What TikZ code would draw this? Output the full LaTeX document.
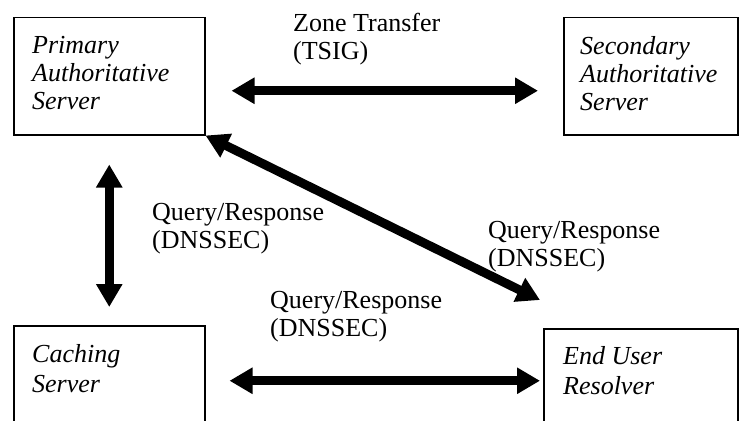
\documentclass[tikz,border=0pt]{standalone}
\usepackage{fontspec}
\setmainfont{Liberation Serif}
\usetikzlibrary{arrows.meta}

\begin{document}
\begin{tikzpicture}[x=1pt, y=-1pt,
	srvbox/.style={draw, line width=1.5pt, anchor=north west, inner sep=0pt},
	srvtext/.style={anchor=north west, inner sep=0pt, align=left, font=\fontsize{26}{28}\selectfont\itshape},
	lowtext/.style={srvtext, font=\fontsize{26}{30.5}\selectfont\itshape},
	lbl/.style={anchor=north west, inner sep=0pt, align=left, font=\fontsize{26}{28}\selectfont},
	conn/.style={line width=9pt, {Triangle[length=23pt,width=25pt]}-{Triangle[length=23pt,width=25pt]}}]

	\clip (0,0) rectangle (743,420);

	% the four servers
	\node [srvbox, minimum width=191pt, minimum height=117pt] (primary) at (13,17) {};
	\node [srvbox, minimum width=174pt, minimum height=117pt] (secondary) at (563,17) {};
	\node [srvbox, minimum width=191pt, minimum height=110pt] (caching) at (13,325) {};
	\node [srvbox, minimum width=194pt, minimum height=104pt] (enduser) at (543,328) {};

	\node [srvtext] (primarytxt) at (32,36) {Primary\\Authoritative\\Server};
	\node [srvtext] (secondarytxt) at (580,36) {Secondary\\Authoritative\\Server};
	\node [lowtext] (cachingtxt) at (32,344) {Caching\\Server};
	\node [lowtext] (endusertxt) at (563,346) {End User\\Resolver};

	% labels
	\node [lbl] (zonelbl) at (293,13) {Zone Transfer\\(TSIG)};
	\node [lbl] (leftlbl) at (152,203) {Query/Response\\(DNSSEC)};
	\node [lbl] (rightlbl) at (488,221) {Query/Response\\(DNSSEC)};
	\node [lbl] (bottomlbl) at (270,291) {Query/Response\\(DNSSEC)};

	% connectors
	\coordinate (qrtip) at (540,300);
	\draw [conn, shorten <=26pt, shorten >=25pt] ([yshift=-14.5pt]primary.east) -- ([yshift=-14.5pt]secondary.west);
	\draw [conn, shorten <=29pt, shorten >=18pt] (primary.south) -- (caching.north);
	\draw [conn] (primary.south east) -- (qrtip);
	\draw [conn, shorten <=24pt, shorten >=3pt] (caching.east) -- (enduser.west);
\end{tikzpicture}
\end{document}
